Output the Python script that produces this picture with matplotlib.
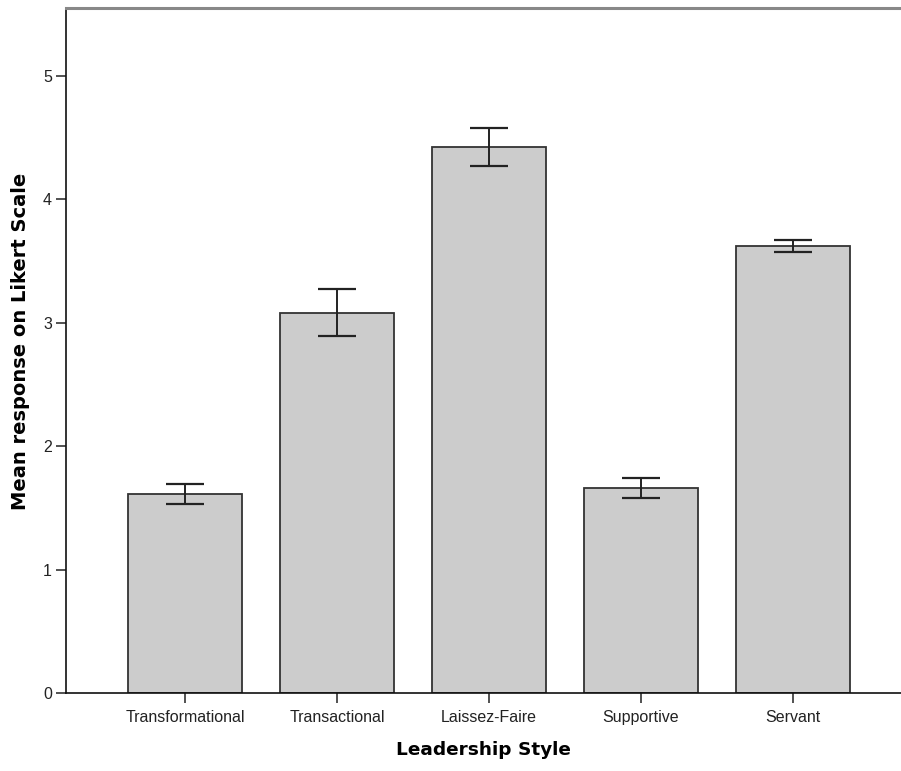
import numpy as np
import matplotlib.pyplot as plt

# data
styles = ["Transformational", "Transactional", "Laissez-Faire", "Supportive", "Servant"]
means = [1.61, 3.08, 4.42, 1.66, 3.62]
err_low = [1.53, 2.89, 4.27, 1.58, 3.57]
err_high = [1.69, 3.27, 4.58, 1.74, 3.67]

plt.rcParams['font.family'] = ['Liberation Sans', 'DejaVu Sans']

fig = plt.figure(figsize=(9.01, 7.71), dpi=100)
ax = fig.add_axes([66 / 901, (771 - 693) / 771, (901 - 66) / 901, (693 - 8) / 771])

x = np.arange(len(styles))
means = np.array(means)
yerr = [means - np.array(err_low), np.array(err_high) - means]

ax.bar(x, means, width=0.75, color="#cccccc", edgecolor="#333333", linewidth=1.3, zorder=2)
ax.errorbar(x, means, yerr=yerr, fmt="none", ecolor="#222222", elinewidth=1.4,
            capsize=13.5, capthick=1.6, zorder=3)

ax.set_xlim(-0.783, 4.71)
ax.set_ylim(0, 5.55)
ax.set_yticks([0, 1, 2, 3, 4, 5])
ax.set_xticks(x)
ax.set_xticklabels(styles)

ax.spines['right'].set_visible(False)
ax.spines['top'].set_color("#888888")
ax.spines['top'].set_linewidth(2.2)
ax.spines['left'].set_color("#111111")
ax.spines['bottom'].set_color("#111111")
ax.spines['left'].set_linewidth(1.2)
ax.spines['bottom'].set_linewidth(1.2)

ax.tick_params(axis='both', direction='out', length=7, width=1.2, color="#333333",
               labelsize=11.5, labelcolor="#222222", pad=3)
ax.tick_params(axis='x', pad=5)

ax.set_xlabel("Leadership Style", fontsize=13.3, fontweight='bold', labelpad=12,
              family='DejaVu Sans')
ax.set_ylabel("Mean response on Likert Scale", fontsize=14, fontweight='bold',
              family='DejaVu Sans')
ax.yaxis.set_label_coords(-0.043, 0.514)

fig.savefig("out.png", dpi=100)
